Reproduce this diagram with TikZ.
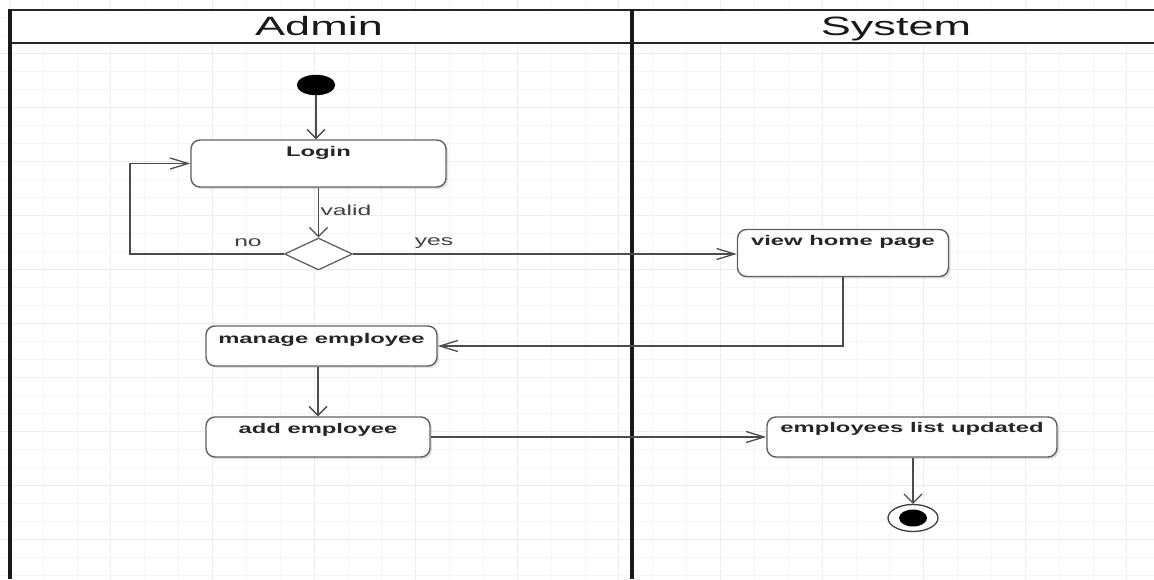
\documentclass[tikz,border=0pt]{standalone}
\usepackage{fontspec}
\setmainfont{Liberation Sans}
\newfontfamily\widesans[FakeStretch=1.7]{Liberation Sans}
\usetikzlibrary{arrows.meta,shapes.geometric,shadows}

\tikzset{
  gridminor/.style={draw=gray!8, line width=0.6pt},
  gridmajor/.style={draw=gray!15, line width=0.8pt},
  laneline/.style={draw=black!90, line width=3.2pt},
  headline/.style={draw=black!85, line width=2.2pt},
  lanetitle/.style={anchor=base, inner sep=0pt, text=black!90,
    font=\widesans\fontsize{26.5}{30}\selectfont},
  activity/.style={draw=black!62, line width=1.4pt, rounded corners=9pt,
    fill=white, inner sep=0pt,
    drop shadow={shadow xshift=2pt, shadow yshift=-2pt, opacity=0.12, fill=black}},
  boxtext/.style={anchor=north, inner sep=0pt, text=black!85,
    font=\widesans\fontsize{14}{16}\selectfont\bfseries},
  flowlabel/.style={inner sep=0pt, text=black!75,
    font=\widesans\fontsize{14.5}{16}\selectfont},
  flow/.style={draw=black!70, line width=1.3pt},
  harrow/.style={flow, -{Straight Barb[length=18pt,width=11pt,line width=1.3pt]}},
  varrow/.style={flow, -{Straight Barb[length=9pt,width=18pt,line width=1.3pt]}},
  startnode/.style={ellipse, fill=black, draw=black, minimum width=38pt,
    minimum height=20pt, inner sep=0pt},
  endring/.style={ellipse, draw=black!75, line width=1.3pt, fill=white,
    minimum width=50pt, minimum height=27pt, inner sep=0pt},
  enddot/.style={ellipse, fill=black, minimum width=28pt, minimum height=17pt,
    inner sep=0pt},
  decision/.style={diamond, draw=black!62, line width=1.3pt, fill=white,
    minimum width=68pt, minimum height=32pt, inner sep=0pt}
}

\begin{document}
\begin{tikzpicture}[x=1pt, y=-1pt]
  \useasboundingbox (0,0) rectangle (1154,579);
  \fill[white] (0,0) rectangle (1154,579);

  % background grid: minor lines, with a stronger line every third one
  \foreach \k in {0,...,34} {
    \pgfmathsetmacro{\gx}{9.1+33.87*\k}
    \pgfmathtruncatemacro{\m}{mod(\k,3)}
    \ifnum\m=0 \draw[gridmajor] (\gx,0) -- (\gx,579);
    \else \draw[gridminor] (\gx,0) -- (\gx,579); \fi
  }
  \foreach \k in {0,...,32} {
    \pgfmathsetmacro{\gy}{-1+18*\k}
    \pgfmathtruncatemacro{\m}{mod(\k,3)}
    \ifnum\m=0 \draw[gridmajor] (0,\gy) -- (1154,\gy);
    \else \draw[gridminor] (0,\gy) -- (1154,\gy); \fi
  }

  % swimlane header and separators
  \fill[white] (10,10) rectangle (1154,43);
  \draw[headline] (10,10) -- (1154,10);
  \draw[headline] (10,43) -- (1154,43);
  \draw[laneline] (10,9) -- (10,579);
  \draw[laneline] (632,9) -- (632,579);
  \node[lanetitle] (admin) at (319,35) {Admin};
  \node[lanetitle] (system) at (896,35) {System};

  % activities
  \node[startnode] (start) at (316,85) {};
  \node[activity, minimum width=255pt, minimum height=47pt,
        label={[boxtext, yshift=-7pt]north:Login}] (login) at (318.5,163.5) {};
  \node[decision] (check) at (318.5,254) {};
  \node[activity, minimum width=211pt, minimum height=47pt,
        label={[boxtext, yshift=-6pt]north:view home page}] (home) at (843,253) {};
  \node[activity, minimum width=231pt, minimum height=40pt,
        label={[boxtext, yshift=-8pt]north:manage employee}] (manage) at (321.5,346) {};
  \node[activity, minimum width=224pt, minimum height=40pt,
        label={[boxtext, yshift=-7pt]north:add employee}] (add) at (318,437) {};
  \node[activity, minimum width=290pt, minimum height=40pt,
        label={[boxtext, yshift=-6pt]north:employees list updated}] (updated) at (912,437) {};
  \node[endring] (finish) at (913,518) {};
  \node[enddot] (finishdot) at (finish.center) {};

  % control flow
  \draw[varrow] (start.south) -- (login.north -| start.south);
  \draw[varrow] (login.south -| check.north) -- (check.north);
  \draw[harrow] (check.west) -- (130,254) |- (login.west);
  \draw[harrow] (check.east) -- (home.west |- check.east);
  \draw[harrow] (home.south) |- (manage.east);
  \draw[varrow] (manage.south -| add.north) -- (add.north);
  \draw[harrow] (add.east) -- (updated.west);
  \draw[varrow] (updated.south -| finish.north) -- (finish.north);

  % guard labels
  \node[flowlabel] (lvalid) at (346,210) {valid};
  \node[flowlabel] (lno) at (248,243) {no};
  \node[flowlabel] (lyes) at (434,243) {yes};
\end{tikzpicture}
\end{document}
